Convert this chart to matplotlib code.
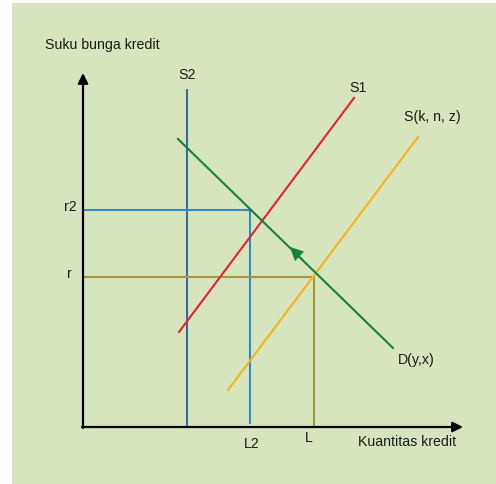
import matplotlib.pyplot as plt
import matplotlib.patches as patches

# --- chart data (credit market, units = quantity / interest rate) ---
axis_x_end = 380
axis_y_end = 354

s2_q = 104
s2_top = 337
l2_q = 167
r2_rate = 217
l_q = 231
r_rate = 150

demand_q = [95, 310]
demand_rate = [288, 79]
s1_q = [96, 271]
s1_rate = [95, 329]
sk_q = [145, 335]
sk_rate = [37, 290]
demand_arrow_at = (207, 180)

labels = {
    "Suku bunga kredit": (-38, 383, "left"),
    "S2": (104, 353, "center"),
    "S1": (275, 340, "center"),
    "S(k, n, z)": (349, 311, "center"),
    "D(y,x)": (333, 68, "center"),
    "r2": (-6, 221, "right"),
    "r": (-11, 154, "right"),
    "L2": (169, -16, "center"),
    "L": (226, -10, "center"),
    "Kuantitas kredit": (324, -14, "center"),
}

bg = "#d7e5be"
blue_dark = "#3a6b96"
blue = "#2f8ac8"
olive = "#a8963c"
red = "#e8202a"
yellow = "#f6b416"
green = "#168040"

plt.rcParams['font.family'] = ['Liberation Sans', 'DejaVu Sans']

fig = plt.figure(figsize=(4.96, 4.85), dpi=100)
ax = fig.add_axes([0, 0, 1, 1])
ax.set_xlim(-83, 413)
ax.set_ylim(-57, 428)
ax.axis('off')
# light green panel behind the diagram
ax.add_patch(patches.Rectangle((12 / 496, 0), 484 / 496, 481 / 485,
                               transform=fig.transFigure, facecolor=bg,
                               edgecolor='none', zorder=0))

lw = 1.5
# guide lines
ax.plot([s2_q, s2_q], [1, s2_top], color=blue_dark, lw=lw, zorder=2)
ax.plot([0, l2_q, l2_q], [r2_rate, r2_rate, 4], color=blue, lw=lw, zorder=2)
ax.plot([0, l_q, l_q], [r_rate, r_rate, 0], color=olive, lw=lw, zorder=2)

# curves
ax.plot(s1_q, s1_rate, color=red, lw=lw, zorder=3)
ax.plot(sk_q, sk_rate, color=yellow, lw=lw, zorder=3)
ax.plot(demand_q, demand_rate, color=green, lw=lw, zorder=3)

# arrow on demand curve
dx = demand_q[1] - demand_q[0]
dy = demand_rate[1] - demand_rate[0]
ax.annotate('', xy=demand_arrow_at,
            xytext=(demand_arrow_at[0] + dx * 0.06, demand_arrow_at[1] + dy * 0.06),
            arrowprops=dict(arrowstyle='-|>', color=green, lw=0.5, mutation_scale=22,
                            shrinkA=0, shrinkB=0), zorder=4)

# axes with arrow heads
ax.annotate('', xy=(0, axis_y_end), xytext=(0, -1),
            arrowprops=dict(arrowstyle='-|>', color='black', lw=1.6,
                            mutation_scale=15, shrinkA=0, shrinkB=0), zorder=4)
ax.annotate('', xy=(axis_x_end, 0), xytext=(-1, 0),
            arrowprops=dict(arrowstyle='-|>', color='black', lw=1.6,
                            mutation_scale=15, shrinkA=0, shrinkB=0), zorder=4)

for txt, (x, y, ha) in labels.items():
    ax.text(x, y, txt, ha=ha, va='center', fontsize=10.2, color='#1a1a1a', zorder=5)

fig.savefig("out.png", dpi=100, facecolor='white')
